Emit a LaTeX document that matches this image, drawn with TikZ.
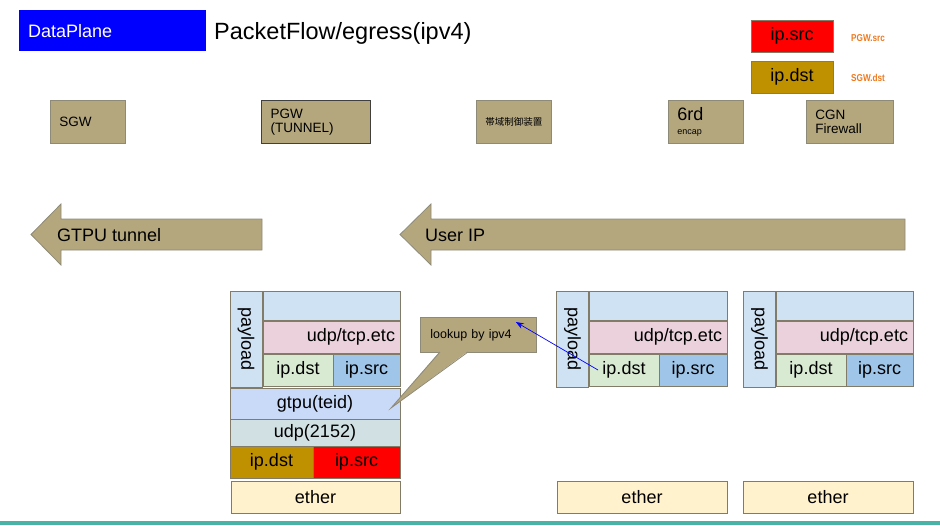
\documentclass[tikz,border=0pt]{standalone}
\usepackage{fontspec}
\setmainfont{Liberation Sans}
\newfontfamily\cjk{Noto Sans CJK JP}
\usetikzlibrary{arrows.meta}

\definecolor{dpblue}{HTML}{0000FF}
\definecolor{tanbox}{HTML}{B4A77E}
\definecolor{tanline}{HTML}{8E8A78}
\definecolor{cellline}{HTML}{827B68}
\definecolor{paybg}{HTML}{CFE2F3}
\definecolor{lfourbg}{HTML}{EAD1DC}
\definecolor{dstbg}{HTML}{D9EAD3}
\definecolor{srcbg}{HTML}{9FC5E8}
\definecolor{gtpubg}{HTML}{C9DAF8}
\definecolor{udpbg}{HTML}{D0E0E3}
\definecolor{gold}{HTML}{BF9000}
\definecolor{etherbg}{HTML}{FFF2CC}
\definecolor{legorange}{HTML}{EE7A1F}
\definecolor{tealline}{HTML}{4AB3A8}

\tikzset{
  cell/.style={draw=cellline, line width=0.9pt, anchor=north west, inner sep=0pt,
    outer sep=0pt, font=\fontsize{18}{20}\selectfont},
  payload/.style={cell, anchor=center, rotate=-90, fill=paybg,
    minimum width=96pt, minimum height=32pt},
  gear/.style={draw=tanline, fill=tanbox, line width=0.8pt, anchor=north west,
    inner xsep=9pt, inner ysep=0pt, minimum height=43pt, align=left,
    font=\fontsize{13.5}{14.5}\selectfont},
  legnote/.style={anchor=west, inner sep=0pt, text=legorange,
    font=\bfseries\fontsize{10}{11}\selectfont},
  bigarrow/.style={draw=tanline, fill=tanbox, line width=0.8pt},
}

\begin{document}
\begin{tikzpicture}[x=1pt,y=-1pt]
  \useasboundingbox (0,0) rectangle (940,525);

  % header
  \node[fill=dpblue, anchor=north west, inner xsep=9pt, inner ysep=0pt, minimum height=41pt,
    text width=169pt, align=left, text=white, font=\fontsize{18}{20}\selectfont]
    (plane) at (19,10) {DataPlane};
  \node[anchor=west, inner sep=0pt, font=\fontsize{23.5}{25}\selectfont] (title) at (214,33)
    {PacketFlow/egress(ipv4)};

  % legend
  \node[cell, fill=red, minimum width=82pt, minimum height=32pt] (legsrc) at (751,20) {ip.src};
  \node[cell, fill=gold, minimum width=82pt, minimum height=32pt] (legdst) at (751,61) {ip.dst};
  \node[legnote] (pgwsrc) at (851,38) {\scalebox{0.82}[1]{PGW.src}};
  \node[legnote] (sgwdst) at (851,78) {\scalebox{0.82}[1]{SGW.dst}};

  % devices
  \node[gear, text width=57pt] (sgw) at (50,100) {SGW};
  \node[gear, text width=91pt, draw=black!75, line width=1.1pt] (pgw) at (261,100) {PGW\\(TUNNEL)};
  \node[gear, text width=57pt, font=\cjk\fontsize{9.5}{11}\selectfont] (bwc) at (476,100) {帯域制御装置};
  \node[gear, text width=57pt] (sixrd) at (668,100)
    {{\fontsize{18}{18}\selectfont 6rd}\\[-1pt]{\fontsize{9}{11}\selectfont encap}};
  \node[gear, text width=69pt] (cgn) at (806,100) {CGN\\Firewall};

  % direction arrows
  \draw[bigarrow] (262,219) -- (61,219) -- (61,204) -- (31,234.5) -- (61,265) -- (61,250)
    -- (262,250) -- cycle;
  \node[anchor=west, inner sep=0pt, font=\fontsize{18}{20}\selectfont] (gtputun) at (57,235) {GTPU tunnel};
  \draw[bigarrow] (905,219) -- (431,219) -- (431,204) -- (400,234.5) -- (431,265) -- (431,250)
    -- (905,250) -- cycle;
  \node[anchor=west, inner sep=0pt, font=\fontsize{18}{20}\selectfont] (userip) at (425,235) {User IP};

  % packet at PGW
  \node[payload] (pay1) at (246,339) {payload};
  \node[cell, fill=paybg, minimum width=137pt, minimum height=29pt] (top1) at (263,291) {};
  \node[cell, fill=lfourbg, text width=127pt, inner xsep=5pt, minimum height=32pt, align=right]
    (lfour1) at (263,321) {udp/tcp.etc};
  \node[cell, fill=dstbg, minimum width=70pt, minimum height=32pt] (dst1) at (263,354) {ip.dst};
  \node[cell, fill=srcbg, minimum width=67pt, minimum height=32pt] (src1) at (333,354) {ip.src};
  \node[cell, fill=gtpubg, minimum width=170pt, minimum height=31pt] (gtpu1) at (230,388) {gtpu(teid)};
  \node[cell, fill=udpbg, minimum width=170pt, minimum height=27pt] (udp1) at (230,419) {udp(2152)};
  \node[cell, fill=gold, minimum width=83pt, minimum height=32pt] (odst1) at (230,446) {ip.dst};
  \node[cell, fill=red, minimum width=87pt, minimum height=32pt] (osrc1) at (313,446) {ip.src};
  \node[cell, fill=etherbg, minimum width=169pt, minimum height=32pt] (eth1) at (231,481) {ether};

  % packet before PGW
  \node[payload] (pay2) at (572.5,339) {payload};
  \node[cell, fill=paybg, minimum width=138pt, minimum height=29pt] (top2) at (589,291) {};
  \node[cell, fill=lfourbg, text width=128pt, inner xsep=5pt, minimum height=32pt, align=right]
    (lfour2) at (589,321) {udp/tcp.etc};
  \node[cell, fill=dstbg, minimum width=70pt, minimum height=32pt] (dst2) at (589,354) {ip.dst};
  \node[cell, fill=srcbg, minimum width=68pt, minimum height=32pt] (src2) at (659,354) {ip.src};
  \node[cell, fill=etherbg, minimum width=170pt, minimum height=32pt] (eth2) at (557,481) {ether};

  % packet from user
  \node[payload] (pay3) at (759.5,339) {payload};
  \node[cell, fill=paybg, minimum width=137pt, minimum height=29pt] (top3) at (776,291) {};
  \node[cell, fill=lfourbg, text width=127pt, inner xsep=5pt, minimum height=32pt, align=right]
    (lfour3) at (776,321) {udp/tcp.etc};
  \node[cell, fill=dstbg, minimum width=70pt, minimum height=32pt] (dst3) at (776,354) {ip.dst};
  \node[cell, fill=srcbg, minimum width=67pt, minimum height=32pt] (src3) at (846,354) {ip.src};
  \node[cell, fill=etherbg, minimum width=170pt, minimum height=32pt] (eth3) at (743,481) {ether};

  % lookup callout
  \node[draw=tanline, fill=tanbox, line width=0.8pt, anchor=north west, inner xsep=10pt,
    inner ysep=0pt, text width=96pt, minimum height=35pt, align=left,
    font=\fontsize{12.5}{14}\selectfont] (look) at (420,317) {lookup by ipv4};
  \fill[tanbox] (440,351.2) -- (391,408) -- (468,351.2) -- cycle;
  \draw[tanline, line width=0.8pt] (440,352) -- (391,408) -- (468,352);
  \draw[blue, line width=0.7pt, -{Stealth[length=8pt,width=6pt]}]
    ([xshift=9pt]dst2.west) -- ([xshift=-21pt,yshift=-5pt]look.north east);

  \fill[tealline] (0,521) rectangle (940,525);
\end{tikzpicture}
\end{document}
